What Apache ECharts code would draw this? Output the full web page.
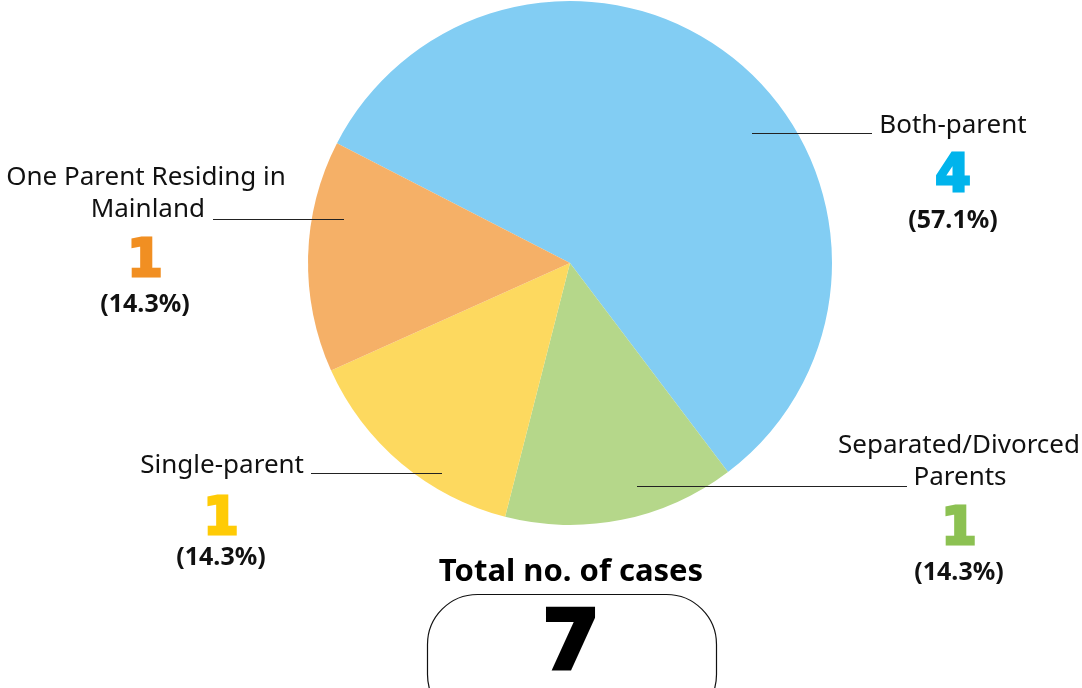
<!DOCTYPE html>
<html>
<head>
<meta charset="utf-8">
<script src="https://cdn.jsdelivr.net/npm/echarts@6/dist/echarts.min.js"></script>
<style>
  html, body { margin: 0; padding: 0; background: #fff; }
  #chart { width: 1082px; height: 688px; }
</style>
</head>
<body>
<div id="chart"></div>
<script>
  // data
  var categories = ['Both-parent', 'Separated/Divorced Parents', 'Single-parent', 'One Parent Residing in Mainland'];
  var caseCounts = [4, 1, 1, 1];
  var sliceColors = ['#82cdf3', '#b5d78a', '#fdd95f', '#f5b067'];
  var numberColors = ['#00b4ec', '#8cc152', '#ffcb05', '#f18f22'];
  var labelLines = [['Both-parent'], ['Separated/Divorced', 'Parents'], ['Single-parent'], ['One Parent Residing in', 'Mainland']];

  var total = caseCounts.reduce(function (a, b) { return a + b; }, 0);

  // where each annotation sits: text centre, leader line
  var layout = [
    { cx: 953, nameY: [126], nameAlign: ['center'], nameX: [953], numY: 178, pctY: 221, line: [752, 133.5, 872, 133.5] },
    { cx: 959, nameY: [446, 478], nameAlign: ['center', 'center'], nameX: [959, 960], numY: 531, pctY: 573, line: [637, 486.5, 907, 486.5] },
    { cx: 221, nameY: [466], nameAlign: ['right'], nameX: [304], numY: 521, pctY: 558, line: [311, 473.5, 442, 473.5] },
    { cx: 145, nameY: [178, 210], nameAlign: ['center', 'right'], nameX: [146, 205], numY: 263, pctY: 305, line: [213, 219.5, 344, 219.5] }
  ];

  var font = '"Noto Sans", "Open Sans", sans-serif';
  var numFont = '"DejaVu Sans", sans-serif';
  var graphics = [];
  categories.forEach(function (c, i) {
    var L = layout[i];
    labelLines[i].forEach(function (t, k) {
      graphics.push({ type: 'text', silent: true, style: {
        text: t, x: L.nameX[k], y: L.nameY[k], fill: '#111',
        font: '26px ' + font, textAlign: L.nameAlign[k], textVerticalAlign: 'middle' } });
    });
    // heavy numeral: bold glyph thickened with a matching stroke
    graphics.push({ type: 'text', silent: true, style: {
      text: String(caseCounts[i]), x: L.cx, y: L.numY, fill: numberColors[i],
      stroke: numberColors[i], lineWidth: 3, lineJoin: 'miter',
      font: '900 51px ' + numFont, textAlign: 'center', textVerticalAlign: 'middle' } });
    graphics.push({ type: 'text', silent: true, style: {
      text: '(' + (caseCounts[i] / total * 100).toFixed(1) + '%)', x: L.cx, y: L.pctY, fill: '#111',
      font: 'bold 25px ' + font, textAlign: 'center', textVerticalAlign: 'middle' } });
    graphics.push({ type: 'line', silent: true, z: 10,
      shape: { x1: L.line[0], y1: L.line[1], x2: L.line[2], y2: L.line[3] },
      style: { stroke: '#222', lineWidth: 1 } });
  });

  graphics.push({ type: 'text', silent: true, style: {
    text: 'Total no. of cases', x: 571, y: 572, fill: '#000',
    font: 'bold 31px ' + font, textAlign: 'center', textVerticalAlign: 'middle' } });
  graphics.push({ type: 'rect', silent: true,
    shape: { x: 427.5, y: 594.5, width: 289, height: 130, r: 50 },
    style: { fill: '#fff', stroke: '#111', lineWidth: 1.2 } });
  graphics.push({ type: 'text', silent: true, z: 20, style: {
    text: String(total), x: 571, y: 648, fill: '#000', stroke: '#000', lineWidth: 4, lineJoin: 'miter',
    font: '900 82px ' + numFont, textAlign: 'center', textVerticalAlign: 'middle' } });

  var chart = echarts.init(document.getElementById('chart'));
  chart.setOption({
    animation: false,
    series: [{
      type: 'pie',
      center: [570, 263],
      radius: 262,
      startAngle: 152.8,
      clockwise: true,
      silent: true,
      label: { show: false },
      labelLine: { show: false },
      data: categories.map(function (c, i) {
        return { name: c, value: caseCounts[i], itemStyle: { color: sliceColors[i] } };
      })
    }],
    graphic: graphics
  });
</script>
</body>
</html>
